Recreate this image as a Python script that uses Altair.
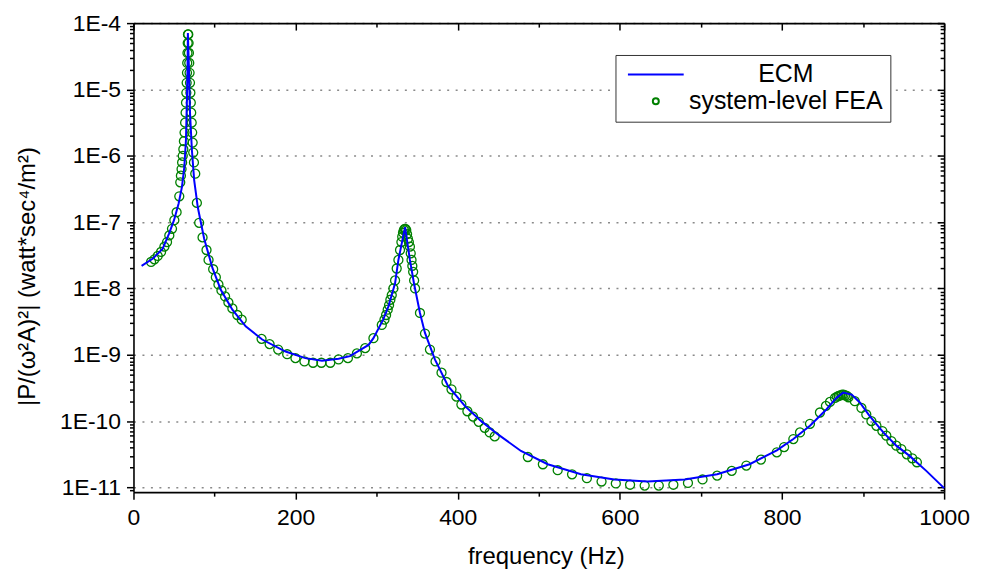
import altair as alt
import pandas as pd

# ---- data ----
ecm_freq = [10, 24, 36, 44, 50, 55.7, 59.8, 62.7, 64.7, 65.9,
            66.7, 67.1, 68.4, 69.6, 72.1, 74.9, 79.4, 87.2, 97.4, 107.7,
            122, 138.4, 158.8, 187.6, 212, 232.6, 253, 267, 290, 296,
            308, 314.5, 322.7, 326.8, 335, 341, 346, 353.4, 359.6, 371.8,
            388, 408.7, 429, 449.6, 478, 511, 552, 593, 634, 680,
            720, 760, 793.6, 814, 834.5, 855, 867, 875.5, 886, 896,
            908, 925, 941, 957, 978, 1000]
ecm_val = [2.19e-8, 2.82e-8, 3.98e-8, 6.76e-8, 1.07e-7, 1.91e-7, 3.39e-7, 6.76e-7, 1.70e-6, 6.76e-6,
           2.14e-5, 7.08e-5, 2.14e-5, 4.79e-6, 1.20e-6, 4.27e-7, 1.66e-7, 5.62e-8, 2.04e-8, 9.55e-9,
           4.79e-9, 2.69e-9, 1.70e-9, 1.12e-9, 8.91e-10, 8.13e-10, 8.71e-10, 9.55e-10, 1.41e-9, 1.78e-9,
           3.39e-9, 5.37e-9, 1.20e-8, 2.69e-8, 8.41e-8, 2.69e-8, 1.20e-8, 4.27e-9, 2.14e-9, 8.51e-10,
           3.39e-10, 1.70e-10, 1.00e-10, 6.31e-11, 3.55e-11, 2.24e-11, 1.58e-11, 1.32e-11, 1.23e-11, 1.32e-11,
           1.58e-11, 2.24e-11, 3.63e-11, 5.37e-11, 8.51e-11, 1.51e-10, 2.24e-10, 2.69e-10, 2.51e-10, 1.91e-10,
           1.20e-10, 6.76e-11, 4.27e-11, 3.02e-11, 1.78e-11, 9.77e-12]

fea_freq = [21.7, 25.8, 29.9, 34, 38.1, 41.4, 44.2, 47.5, 50.4, 53.2,
            56.5, 57.7, 58.5, 59.3, 60, 60.8, 61.5, 62.2, 63, 63.7,
            64.3, 64.8, 65.2, 65.6, 66, 66.3, 66.6, 66.9, 67.2, 67.6,
            68, 68.4, 68.8, 69.2, 69.7, 70.2, 70.7, 71.2, 71.8, 72.4,
            73, 73.7, 74.6, 76.2, 78.2, 81, 85.2, 90.1, 92.6, 98.3,
            101.6, 104.8, 108.5, 113, 117.1, 122, 128.1, 133.5, 158, 167.9,
            178.5, 189.6, 199.8, 210.9, 221.5, 231.8, 242.8, 253, 264.5, 275.6,
            285.8, 296, 306.3, 309.6, 311.6, 313.6, 315.3, 316.9, 318.6, 320.6,
            322.7, 324.7, 326.8, 328.8, 330.5, 331.5, 332.5, 333.5, 334.5, 335.5,
            336.5, 337.5, 338.5, 339.7, 341, 342, 343, 344, 345, 346.2,
            347.4, 353.4, 359.6, 365.7, 372.6, 380, 386.1, 392.3, 398.4, 404.5,
            411.9, 418.9, 425.9, 433.3, 439.4, 445.6, 486.5, 505, 523.3, 541,
            559.3, 577.4, 595, 612.6, 630.6, 648, 666, 684, 702, 720,
            738, 756, 774, 793.6, 802.6, 814, 822.2, 834.5, 846.8, 854.2,
            859.2, 865.4, 868, 870, 872, 874, 876, 878, 880, 882,
            889.8, 898, 904, 910.3, 916.5, 923.8, 928.7, 934.9, 941, 947.2,
            954, 960.7, 966.4]
fea_val = [2.51e-8, 2.75e-8, 3.09e-8, 3.55e-8, 4.27e-8, 5.01e-8, 6.31e-8, 7.94e-8, 1.07e-7, 1.41e-7,
           2.45e-7, 3.98e-7, 5.01e-7, 6.31e-7, 7.94e-7, 1.00e-6, 1.26e-6, 1.66e-6, 2.24e-6, 3.16e-6,
           4.47e-6, 6.31e-6, 8.91e-6, 1.26e-5, 1.78e-5, 2.51e-5, 3.55e-5, 5.01e-5, 6.76e-5, 6.76e-5,
           5.01e-5, 3.55e-5, 2.51e-5, 1.78e-5, 1.26e-5, 8.91e-6, 6.31e-6, 4.47e-6, 3.16e-6, 2.24e-6,
           1.58e-6, 1.12e-6, 7.94e-7, 5.37e-7, 1.95e-7, 9.77e-8, 5.89e-8, 3.80e-8, 2.69e-8, 1.95e-8,
           1.48e-8, 1.15e-8, 9.33e-9, 7.59e-9, 6.17e-9, 5.01e-9, 3.98e-9, 3.39e-9, 1.74e-9, 1.45e-9,
           1.20e-9, 1.02e-9, 8.91e-10, 7.94e-10, 7.59e-10, 7.59e-10, 7.59e-10, 8.51e-10, 8.91e-10, 1.05e-9,
           1.26e-9, 1.78e-9, 2.82e-9, 3.39e-9, 3.98e-9, 4.79e-9, 5.62e-9, 6.76e-9, 7.94e-9, 1.00e-8,
           1.32e-8, 2.00e-8, 2.69e-8, 3.80e-8, 5.01e-8, 6.03e-8, 6.92e-8, 7.59e-8, 7.94e-8, 7.94e-8,
           7.59e-8, 6.61e-8, 5.62e-8, 5.01e-8, 4.27e-8, 3.39e-8, 2.69e-8, 2.19e-8, 1.78e-8, 1.32e-8,
           1.00e-8, 4.27e-9, 2.09e-9, 1.20e-9, 7.94e-10, 5.37e-10, 3.89e-10, 3.02e-10, 2.34e-10, 1.78e-10,
           1.41e-10, 1.17e-10, 9.77e-11, 7.94e-11, 6.76e-11, 5.89e-11, 2.88e-11, 2.24e-11, 1.82e-11, 1.58e-11,
           1.38e-11, 1.23e-11, 1.15e-11, 1.10e-11, 1.07e-11, 1.07e-11, 1.10e-11, 1.17e-11, 1.32e-11, 1.51e-11,
           1.78e-11, 2.14e-11, 2.63e-11, 3.39e-11, 4.07e-11, 5.37e-11, 6.76e-11, 9.12e-11, 1.35e-10, 1.70e-10,
           1.95e-10, 2.24e-10, 2.34e-10, 2.40e-10, 2.45e-10, 2.51e-10, 2.51e-10, 2.45e-10, 2.40e-10, 2.29e-10,
           2.00e-10, 1.58e-10, 1.26e-10, 1.00e-10, 8.51e-11, 7.08e-11, 6.03e-11, 5.01e-11, 4.27e-11, 3.80e-11,
           3.16e-11, 2.75e-11, 2.40e-11]

series_names = ["ECM", "system-level FEA"]
series_colors = ["#0000ff", "#008000"]

x_major = [0, 200, 400, 600, 800, 1000]
x_minor = [100, 300, 500, 700, 900]
y_major = [1e-11, 1e-10, 1e-9, 1e-8, 1e-7, 1e-6, 1e-5, 1e-4]
y_minor = [m * 10.0 ** e for e in range(-12, -4) for m in range(2, 10)
           if 8.5e-12 <= m * 10.0 ** e <= 1e-4]

ecm = pd.DataFrame({"freq": ecm_freq, "val": ecm_val, "series": series_names[0]})
fea = pd.DataFrame({"freq": fea_freq, "val": fea_val, "series": series_names[1]})

W, H = 814, 471
FONT = "Liberation Sans"

xs = alt.Scale(domain=[0, 1000], nice=False, zero=False)
ys = alt.Scale(type="log", domain=[8.5e-12, 1e-4], nice=False)

common = dict(labelFont=FONT, titleFont=FONT, labelColor="black", titleColor="black",
              domainColor="black", tickColor="black", domainWidth=1.6, tickWidth=1.5,
              titleFontWeight="normal")

ax_bottom = alt.Axis(orient="bottom", values=x_major, format="d", tickSize=7, labelFontSize=23,
                     labelPadding=7, labelFlush=False, labelOverlap=False, grid=False,
                     title="frequency (Hz)", titleFontSize=24, titleY=65, titleX=414,
                     titleBaseline="middle", **common)
ax_bottom_minor = alt.Axis(orient="bottom", values=x_minor, tickSize=4, labels=False,
                           domain=False, grid=False, title=None, **common)
ax_top = alt.Axis(orient="bottom", offset=-H, values=x_major, tickSize=7, labels=False,
                  domain=True, grid=False, title=None, **common)
ax_top_minor = alt.Axis(orient="bottom", offset=-H, values=x_minor, tickSize=4, labels=False,
                        domain=False, grid=False, title=None, **common)

ax_left = alt.Axis(orient="left", values=y_major,
                   labelExpr="'1E' + round(log(datum.value) / LN10)",
                   tickSize=7, labelPadding=6, labelFontSize=23, labelOverlap=False,
                   grid=True, gridDash=[2, 6.5], gridColor="#8a8a8a", gridWidth=1.5,
                   title="|P/(\u03c9\u00b2A)\u00b2|  (watt*sec\u2074/m\u00b2)", titleFontSize=24,
                   titleX=-106, titleY=254, titleAngle=270, titleBaseline="middle",
                   titleAlign="center", **common)
ax_left_minor = alt.Axis(orient="left", values=y_minor, tickSize=4, labels=False,
                         domain=False, grid=False, title=None, **common)
ax_right = alt.Axis(orient="left", offset=-W, values=y_major, tickSize=7, labels=False,
                    domain=True, grid=False, title=None, **common)
ax_right_minor = alt.Axis(orient="left", offset=-W, values=y_minor, tickSize=4, labels=False,
                          domain=False, grid=False, title=None, **common)

line_symbol = "M-4,0H4"
circle_symbol = "M-0.43,0A0.43,0.43,0,1,1,0.43,0A0.43,0.43,0,1,1,-0.43,0Z"

legend = alt.Legend(title=None, orient="none", legendX=484, legendY=32,
                    labelFont=FONT, labelFontSize=25, labelColor="black",
                    symbolSize=196, symbolStrokeWidth=2, symbolOffset=21,
                    labelOffset=118, labelAlign="center", labelLimit=400,
                    padding=7, rowPadding=1, strokeColor="#333333", fillColor="white")

frame1 = alt.Chart(ecm).mark_line(opacity=0).encode(
    x=alt.X("freq:Q", scale=xs, axis=ax_top),
    y=alt.Y("val:Q", scale=ys, axis=ax_right),
)
frame2 = alt.Chart(ecm).mark_line(opacity=0).encode(
    x=alt.X("freq:Q", scale=xs, axis=ax_top_minor),
    y=alt.Y("val:Q", scale=ys, axis=ax_right_minor),
)
points = alt.Chart(fea).mark_point(filled=False, strokeWidth=1.3, size=440, opacity=1).encode(
    x=alt.X("freq:Q", scale=xs, axis=ax_bottom_minor),
    y=alt.Y("val:Q", scale=ys, axis=ax_left_minor),
    color=alt.Color("series:N", scale=alt.Scale(domain=series_names, range=series_colors),
                    legend=legend),
    shape=alt.Shape("series:N", scale=alt.Scale(domain=series_names,
                                                range=[line_symbol, circle_symbol]),
                    legend=legend),
)
line = alt.Chart(ecm).mark_line(color=series_colors[0], strokeWidth=2).encode(
    x=alt.X("freq:Q", scale=xs, axis=ax_bottom),
    y=alt.Y("val:Q", scale=ys, axis=ax_left),
)

chart = alt.layer(frame1, frame2, points, line).resolve_axis(
    x="independent", y="independent"
).properties(
    width=W, height=H,
    autosize=alt.AutoSizeParams(type="none"),
    padding={"left": 126, "top": 14, "right": 30, "bottom": 80},
    background="white",
).configure_view(strokeWidth=0)

chart.save("out.html", embed_options={"renderer": "svg", "actions": False})
